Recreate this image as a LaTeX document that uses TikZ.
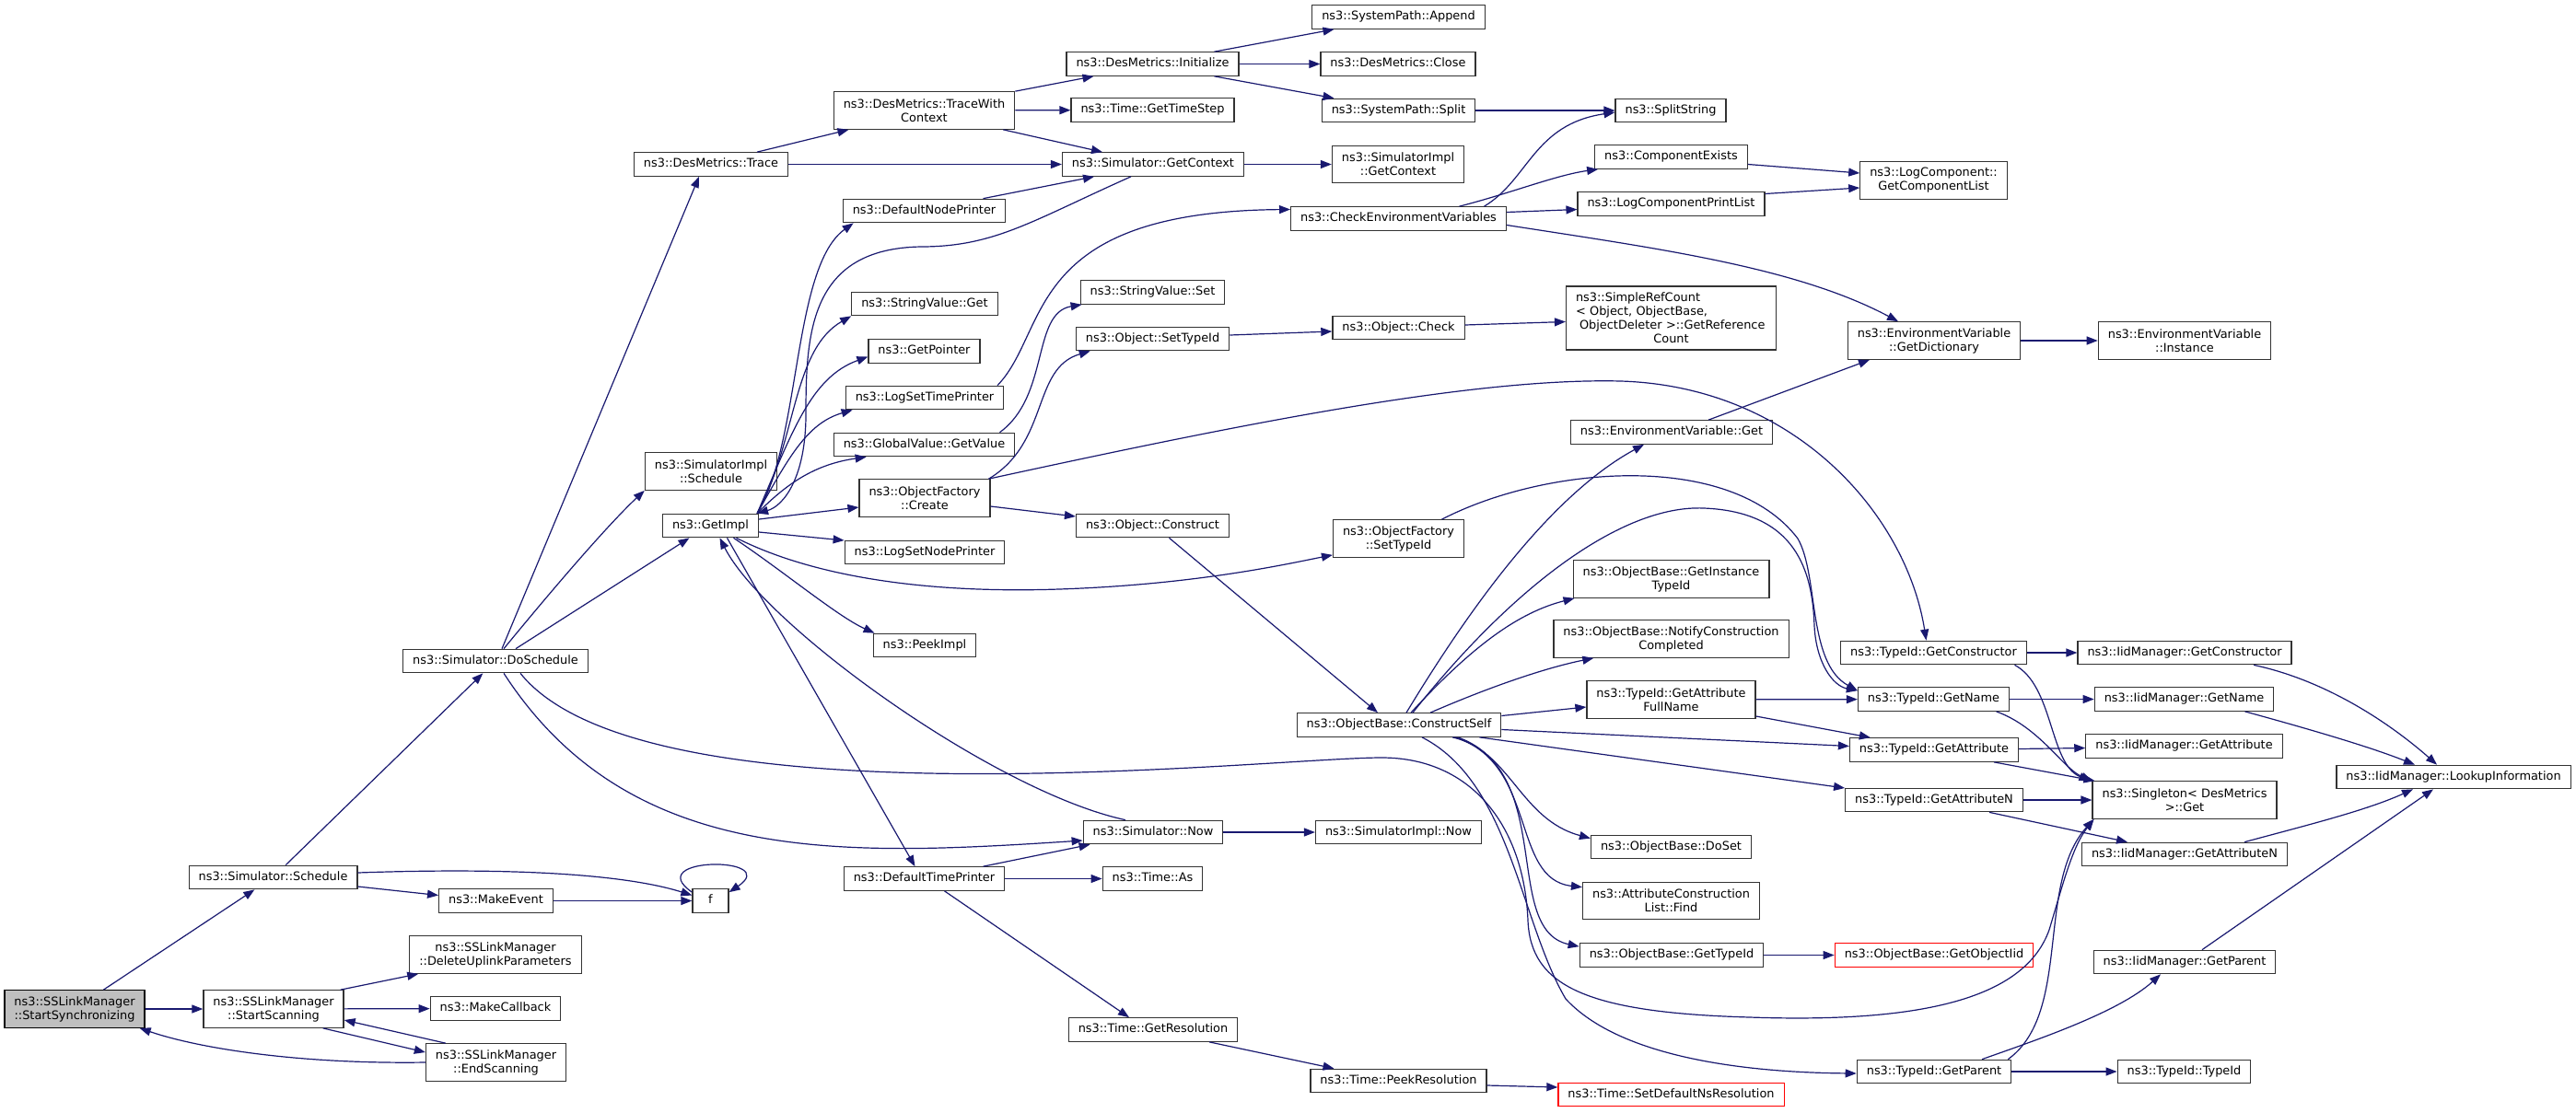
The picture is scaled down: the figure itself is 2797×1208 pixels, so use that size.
\documentclass[tikz,border=0pt]{standalone}
\usepackage{fontspec}
\setmainfont{DejaVu Sans}
\usepackage{tikz}
\usetikzlibrary{arrows.meta}
\definecolor{edgeblue}{HTML}{191970}
\definecolor{rootgray}{HTML}{BFBFBF}
\definecolor{missred}{HTML}{FF0000}

\begin{document}
\begin{tikzpicture}[x=1pt, y=-1pt, >={Stealth[length=12pt,width=9pt,inset=0pt]},
  box/.style={draw=black!80, line width=1.2pt, fill=white, inner xsep=10.5pt, inner ysep=0pt, font=\fontsize{12.9}{15}\selectfont},
  fn/.style={box, minimum height=25.5pt, text height=9.6pt, text depth=3pt},
  fnn/.style={box, align=center, minimum height=40.5pt},
  root/.style={fill=rootgray, draw=black},
  miss/.style={draw=missred},
  call/.style={->, draw=edgeblue, line width=1.2pt}]
\fill [white] (0,0) rectangle (2797,1208);
\useasboundingbox (0,0) rectangle (2797,1208);

\node [fnn, root] (ss) at (81,1096) {ns3::SSLinkManager\\::StartSynchronizing};
\node [fn] (sched) at (296.5,953) {ns3::Simulator::Schedule};
\node [fnn] (scan) at (297,1096) {ns3::SSLinkManager\\::StartScanning};
\node [fn] (dosch) at (538,718) {ns3::Simulator::DoSchedule};
\node [fn] (mkev) at (538.5,978.5) {ns3::MakeEvent};
\node [fn, minimum width=39pt] (f) at (771.5,978.5) {f};
\node [fnn] (delup) at (538,1037) {ns3::SSLinkManager\\::DeleteUplinkParameters};
\node [fn] (mkcb) at (538,1095.5) {ns3::MakeCallback};
\node [fnn] (endsc) at (538.5,1154) {ns3::SSLinkManager\\::EndScanning};
\node [fn] (dmtrace) at (772,178.5) {ns3::DesMetrics::Trace};
\node [fnn] (sisched) at (772,512) {ns3::SimulatorImpl\\::Schedule};
\node [fn] (getimpl) at (771.5,571) {ns3::GetImpl};
\node [fnn] (twc) at (1003.5,120) {ns3::DesMetrics::TraceWith\\Context};
\node [fn] (dnp) at (1003.5,229) {ns3::DefaultNodePrinter};
\node [fn] (svget) at (1004,330) {ns3::StringValue::Get};
\node [fn] (getptr) at (1003.5,381.5) {ns3::GetPointer};
\node [fn] (lstp) at (1004,432) {ns3::LogSetTimePrinter};
\node [fn] (gvget) at (1003.5,483) {ns3::GlobalValue::GetValue};
\node [fnn] (ofcreate) at (1004,541) {ns3::ObjectFactory\\::Create};
\node [fn] (lsnp) at (1004,600) {ns3::LogSetNodePrinter};
\node [fn] (peek) at (1004,701) {ns3::PeekImpl};
\node [fn] (dtp) at (1003.5,954.5) {ns3::DefaultTimePrinter};
\node [fn] (init) at (1251.5,69.5) {ns3::DesMetrics::Initialize};
\node [fn] (tstep) at (1251.5,119.5) {ns3::Time::GetTimeStep};
\node [fn] (getctx) at (1252,178.5) {ns3::Simulator::GetContext};
\node [fn] (svset) at (1251.5,317.5) {ns3::StringValue::Set};
\node [fn] (objsettid) at (1251.5,368) {ns3::Object::SetTypeId};
\node [fn] (objconstr) at (1251.5,571) {ns3::Object::Construct};
\node [fn] (simnow) at (1252,904) {ns3::Simulator::Now};
\node [fn] (tas) at (1251.5,954.5) {ns3::Time::As};
\node [fn] (getres) at (1252,1118.5) {ns3::Time::GetResolution};
\node [fn] (spappend) at (1518.5,18.5) {ns3::SystemPath::Append};
\node [fn] (dmclose) at (1518,69.5) {ns3::DesMetrics::Close};
\node [fn] (spsplit) at (1518.5,120) {ns3::SystemPath::Split};
\node [fnn] (sigetctx) at (1518,178.5) {ns3::SimulatorImpl\\::GetContext};
\node [fn] (checkenv) at (1518.5,237.5) {ns3::CheckEnvironmentVariables};
\node [fn] (objcheck) at (1518.5,356) {ns3::Object::Check};
\node [fnn] (ofsettid) at (1518.5,585) {ns3::ObjectFactory\\::SetTypeId};
\node [fn] (cself) at (1519,787.5) {ns3::ObjectBase::ConstructSelf};
\node [fn] (sinow) at (1518.5,904) {ns3::SimulatorImpl::Now};
\node [fn] (peekres) at (1518.5,1174) {ns3::Time::PeekResolution};
\node [fn] (splitstr) at (1814,120) {ns3::SplitString};
\node [fn] (compex) at (1814.5,170.5) {ns3::ComponentExists};
\node [fn] (lcpl) at (1814.5,221.5) {ns3::LogComponentPrintList};
\node [box, minimum height=69pt, text width=207pt, align=left] (refcount) at (1814.5,345.5) {ns3::SimpleRefCount\\< Object, ObjectBase,\\\hspace*{4pt}ObjectDeleter >::GetReference\\\hfil Count\hfil};
\node [fn] (envget) at (1815,469.5) {ns3::EnvironmentVariable::Get};
\node [fnn] (getinst) at (1814.5,629) {ns3::ObjectBase::GetInstance\\TypeId};
\node [fnn] (notify) at (1814.5,694) {ns3::ObjectBase::NotifyConstruction\\Completed};
\node [fnn] (attrfull) at (1814.5,760) {ns3::TypeId::GetAttribute\\FullName};
\node [fn] (doset) at (1814.5,920) {ns3::ObjectBase::DoSet};
\node [fnn] (aclfind) at (1814.5,978.5) {ns3::AttributeConstruction\\List::Find};
\node [fn] (obgettid) at (1815,1037.5) {ns3::ObjectBase::GetTypeId};
\node [fn, miss] (setdefres) at (1814.5,1189) {ns3::Time::SetDefaultNsResolution};
\node [fnn] (getcomplist) at (2099.5,196) {ns3::LogComponent::\\GetComponentList};
\node [fnn] (getdict) at (2100,370) {ns3::EnvironmentVariable\\::GetDictionary};
\node [fn] (tgetctor) at (2099.5,709) {ns3::TypeId::GetConstructor};
\node [fn] (tgetname) at (2099.5,759.5) {ns3::TypeId::GetName};
\node [fn] (tgetattr) at (2100,814.5) {ns3::TypeId::GetAttribute};
\node [fn] (tgetattrn) at (2100,869) {ns3::TypeId::GetAttributeN};
\node [fn, miss] (getoiid) at (2100,1037.5) {ns3::ObjectBase::GetObjectIid};
\node [fn] (tgetparent) at (2100,1164) {ns3::TypeId::GetParent};
\node [fnn] (envinst) at (2372,370) {ns3::EnvironmentVariable\\::Instance};
\node [fn] (igetctor) at (2372,709) {ns3::IidManager::GetConstructor};
\node [fn] (igetname) at (2371.5,759.5) {ns3::IidManager::GetName};
\node [fn] (igetattr) at (2371.5,810.5) {ns3::IidManager::GetAttribute};
\node [fnn] (singleton) at (2372,869) {ns3::Singleton< DesMetrics\\ >::Get};
\node [fn] (igetattrn) at (2372,928) {ns3::IidManager::GetAttributeN};
\node [fn] (igetparent) at (2372,1045) {ns3::IidManager::GetParent};
\node [fn] (ttypeid) at (2371.5,1164) {ns3::TypeId::TypeId};
\node [fn] (lookup) at (2664,844) {ns3::IidManager::LookupInformation};

\draw [call] (ss) -- (sched);
\draw [call] (ss) -- (scan);
\draw [call] (endsc.west) .. controls (330,1156) and (220,1140) .. ([xshift=-6pt]ss.south east);
\draw [call] (sched) -- (dosch);
\draw [call] ([yshift=-10pt]sched.east) -- ([yshift=6pt]mkev.west);
\draw [call] ([yshift=5pt]sched.east) .. controls (560,942) and (680,950) .. ([yshift=6pt]f.west);
\draw [call] (mkev) -- (f);
\draw [call] ([yshift=-4pt]f.north west) .. controls (695,930) and (850,930) .. ([yshift=-4pt]f.north east);
\draw [call] ([xshift=-4pt]scan.north east) -- ([xshift=10pt]delup.south west);
\draw [call] (scan) -- (mkcb);
\draw [call] ([xshift=-23pt]scan.south east) -- ([yshift=11pt]endsc.west);
\draw [call] ([xshift=22pt]endsc.north west) -- ([yshift=-12pt]scan.east);

\draw [call] ([xshift=7pt]dosch.north) -- ([xshift=-13pt]dmtrace.south);
\draw [call] ([xshift=9pt]dosch.north) .. controls (600,640) and (660,570) .. (sisched.south west);
\draw [call] ([xshift=22pt]dosch.north) -- ([xshift=-23pt]getimpl.south);
\draw [call] ([xshift=9pt]dosch.south) .. controls (683,941) and (913,930) .. ([yshift=-9pt]simnow.west);
\draw [call] ([xshift=27pt]dosch.south) .. controls (700,900) and (1380,823) .. (1500,823) .. controls (1600,823) and (1655,900) .. (1659,1000) .. controls (1662,1070) and (1720,1100) .. (1900,1105) .. controls (2100,1112) and (2200,1080) .. (2225,1010) .. controls (2240,960) and (2250,920) .. ([xshift=2pt]singleton.south west);

\draw [call] ([xshift=50pt]dmtrace.north) -- ([xshift=-82pt]twc.south);
\draw [call] (dmtrace) -- (getctx);
\draw [call] (twc.north east) -- ([xshift=-64pt]init.south);
\draw [call] (twc) -- (tstep);
\draw [call] ([xshift=-13pt]twc.south east) -- ([xshift=-55pt]getctx.north);
\draw [call] ([xshift=67pt]init.north) -- ([xshift=-70pt]spappend.south);
\draw [call] (init) -- (dmclose);
\draw [call] ([xshift=67pt]init.south) -- ([xshift=-70pt]spsplit.north);
\draw [call] (spsplit) -- (splitstr);
\draw [call] (getctx) -- (sigetctx);
\draw [call] ([xshift=-24pt]getctx.south) .. controls (1120,240) and (1080,268) .. (1000,268) .. controls (880,270) and (875,360) .. (875,450) .. controls (875,520) and (850,550) .. ([xshift=-2pt]getimpl.north east);
\draw [call] ([xshift=64pt]dnp.north) -- ([xshift=-64pt]getctx.south);

\draw [call] ([xshift=-2pt]getimpl.north east) .. controls (870,480) and (860,290) .. ([xshift=12pt]dnp.south west);
\draw [call] ([xshift=-2pt]getimpl.north east) .. controls (865,480) and (860,380) .. (svget.south west);
\draw [call] ([xshift=-2pt]getimpl.north east) .. controls (860,470) and (880,410) .. ([yshift=-6pt]getptr.west);
\draw [call] ([xshift=-2pt]getimpl.north east) .. controls (855,500) and (875,460) .. ([xshift=8pt]lstp.south west);
\draw [call] ([xshift=-2pt]getimpl.north east) .. controls (850,530) and (880,505) .. ([xshift=36pt]gvget.south west);
\draw [call] ([yshift=7pt]getimpl.east) -- ([yshift=-10pt]ofcreate.west);
\draw [call] ([yshift=-7pt]getimpl.east) -- ([yshift=13pt]lsnp.west);
\draw [call] ([xshift=25pt]getimpl.south) .. controls (850,620) and (910,670) .. ([xshift=2pt]peek.north west);
\draw [call] ([xshift=18pt]getimpl.south) -- ([xshift=-10pt]dtp.north);
\draw [call] ([xshift=-30pt]simnow.north) .. controls (1080,860) and (830,680) .. ([xshift=10pt]getimpl.south);
\draw [call] ([xshift=28pt]getimpl.south) .. controls (880,625) and (1000,645) .. (1150,640) .. controls (1300,635) and (1400,612) .. ([yshift=3pt]ofsettid.south west);

\draw [call] ([xshift=64pt]dtp.north) -- ([xshift=8pt]simnow.south west);
\draw [call] (dtp) -- (tas);
\draw [call] ([xshift=22pt]dtp.south) -- ([xshift=-26pt]getres.north);
\draw [call] (simnow) -- (sinow);
\draw [call] ([xshift=61pt]getres.south) -- ([xshift=-70pt]peekres.north);
\draw [call] ([yshift=-5pt]peekres.east) -- ([yshift=8pt]setdefres.west);

\draw [call] ([xshift=79pt]lstp.north) .. controls (1140,360) and (1110,230) .. ([yshift=10pt]checkenv.west);
\draw [call] ([xshift=82pt]gvget.north) .. controls (1140,430) and (1120,340) .. ([xshift=2pt]svset.south west);
\draw [call] ([xshift=-2pt]ofcreate.north east) .. controls (1140,480) and (1120,400) .. ([xshift=16pt]objsettid.south west);
\draw [call] ([xshift=-2pt]ofcreate.north east) .. controls (1350,460) and (1600,410) .. (1760,414) .. controls (1950,420) and (2070,560) .. ([xshift=-8pt]tgetctor.north);
\draw [call] ([yshift=-9pt]ofcreate.east) -- ([yshift=10pt]objconstr.west);
\draw [call] ([xshift=18pt]objconstr.south) -- ([xshift=-23pt]cself.north);
\draw [call] ([yshift=4pt]objsettid.east) -- ([yshift=-4pt]objcheck.west);
\draw [call] ([yshift=3pt]objcheck.east) -- ([yshift=-4pt]refcount.west);

\draw [call] ([xshift=93pt]checkenv.north) .. controls (1660,195) and (1665,135) .. ([yshift=-2pt]splitstr.west);
\draw [call] ([xshift=66pt]checkenv.north) .. controls (1640,210) and (1690,190) .. ([xshift=4pt]compex.south west);
\draw [call] ([yshift=7pt]checkenv.east) -- ([yshift=-6pt]lcpl.west);
\draw [call] ([yshift=-7pt]checkenv.east) .. controls (1800,270) and (1950,290) .. ([xshift=-39pt]getdict.north);
\draw [call] ([yshift=-8pt]compex.east) -- ([yshift=8pt]getcomplist.west);
\draw [call] ([yshift=11pt]lcpl.east) -- ([yshift=-8pt]getcomplist.west);
\draw [call] (getdict) -- (envinst);
\draw [call] ([xshift=40pt]envget.north) -- ([xshift=-70pt]getdict.south);
\draw [call] ([xshift=47pt]ofsettid.north) .. controls (1680,505) and (1880,490) .. (1952,585) .. controls (1975,625) and (1962,720) .. ([yshift=-4pt]tgetname.north west);

\draw [call] ([xshift=8pt]cself.north) .. controls (1590,670) and (1680,540) .. ([xshift=-30pt]envget.south);
\draw [call] ([xshift=15pt]cself.north) .. controls (1640,640) and (1760,548) .. (1850,552) .. controls (1950,556) and (1968,620) .. (1970,680) .. controls (1972,720) and (1990,745) .. ([yshift=-4pt]tgetname.north west);
\draw [call] ([xshift=13pt]cself.north) .. controls (1600,700) and (1650,665) .. ([xshift=2pt]getinst.south west);
\draw [call] ([xshift=34pt]cself.north) .. controls (1620,745) and (1680,725) .. ([xshift=44pt]notify.south west);
\draw [call] ([yshift=10pt]cself.east) -- ([yshift=-8pt]attrfull.west);
\draw [call] ([yshift=-5pt]cself.east) -- ([yshift=4pt]tgetattr.west);
\draw [call] ([xshift=-24pt]cself.south east) -- ([yshift=13pt]tgetattrn.west);
\draw [call] ([xshift=58pt]cself.south) .. controls (1640,815) and (1650,890) .. ([yshift=-4pt]doset.north west);
\draw [call] ([xshift=61pt]cself.south) .. controls (1670,830) and (1640,955) .. ([yshift=-6pt]aclfind.north west);
\draw [call] ([xshift=64pt]cself.south) .. controls (1690,840) and (1630,1010) .. ([yshift=-4pt]obgettid.north west);
\draw [call] ([xshift=25pt]cself.south) .. controls (1640,850) and (1650,1000) .. (1700,1085) .. controls (1760,1150) and (1900,1165) .. ([yshift=-2pt]tgetparent.west);
\draw [call] (attrfull) -- (tgetname);
\draw [call] ([yshift=-18pt]attrfull.east) -- ([xshift=23pt]tgetattr.north west);
\draw [call] (obgettid) -- (getoiid);

\draw [call] (tgetctor) -- (igetctor);
\draw [call] ([xshift=88pt]tgetctor.south) .. controls (2230,745) and (2225,830) .. ([xshift=-2pt]singleton.north west);
\draw [call] (tgetname) -- (igetname);
\draw [call] ([xshift=68pt]tgetname.south) .. controls (2215,790) and (2240,835) .. (singleton.north west);
\draw [call] ([yshift=1pt]tgetattr.east) -- ([yshift=-2pt]igetattr.west);
\draw [call] ([xshift=65pt]tgetattr.south) -- ([xshift=3pt]singleton.north west);
\draw [call] (tgetattrn) -- (singleton);
\draw [call] ([xshift=60pt]tgetattrn.south) -- ([xshift=-62pt]igetattrn.north);
\draw [call] ([xshift=75pt]igetctor.south) .. controls (2530,740) and (2600,790) .. ([xshift=-18pt]lookup.north);
\draw [call] ([xshift=66pt]igetname.south) .. controls (2500,790) and (2570,810) .. ([xshift=-42pt]lookup.north);
\draw [call] ([xshift=65pt]igetattrn.north) .. controls (2510,895) and (2570,880) .. ([xshift=-44pt]lookup.south);
\draw [call] ([xshift=19pt]igetparent.north) -- ([xshift=-22pt]lookup.south);
\draw [call] ([xshift=52pt]tgetparent.north) .. controls (2210,1130) and (2300,1100) .. ([xshift=-26pt]igetparent.south);
\draw [call] (tgetparent) -- (ttypeid);
\draw [call] ([xshift=-4pt]tgetparent.north east) .. controls (2250,1100) and (2210,960) .. ([xshift=2pt]singleton.south west);
\end{tikzpicture}
\end{document}
